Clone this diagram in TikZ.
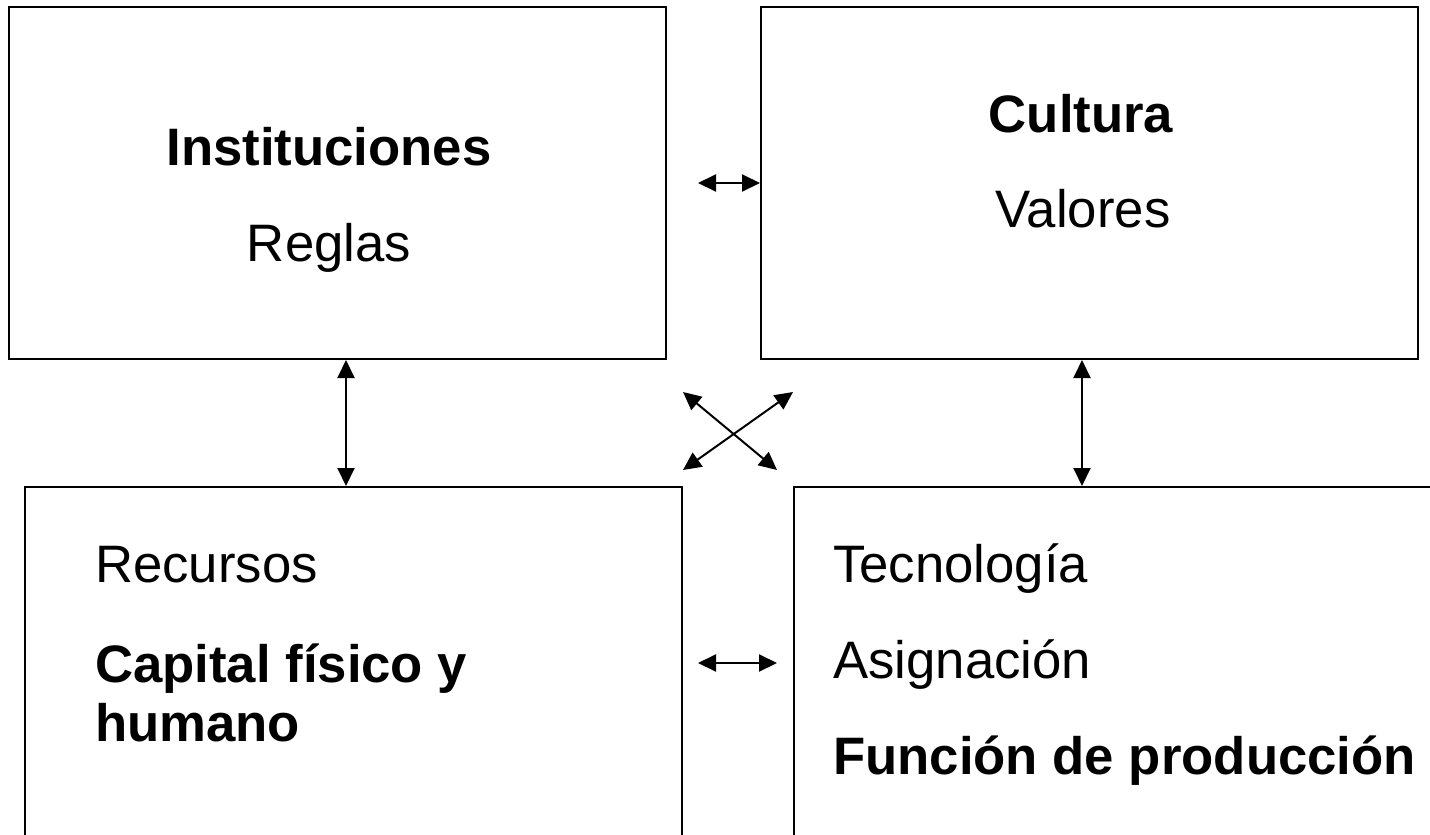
\documentclass[tikz,border=0pt]{standalone}
\usepackage{fontspec}
\setmainfont{Liberation Sans}
\usetikzlibrary{arrows.meta}
\tikzset{
  box/.style={draw=black, line width=2pt, minimum width=657pt, inner sep=0pt, fill=none},
  arr/.style={line width=2pt, {Triangle[length=18pt,width=17pt]}-{Triangle[length=18pt,width=17pt]}},
  txt/.style={inner sep=0pt, font=\fontsize{52.7}{60}\selectfont},
  btxt/.style={txt, font=\fontsize{52.7}{60}\selectfont\bfseries}
}
\begin{document}
\begin{tikzpicture}[x=1pt,y=-1pt]
\clip (0,0) rectangle (1430,835);
\fill[white] (0,0) rectangle (1430,835);
% boxes
\node[box, minimum height=352pt] (TL) at (337.5,183) {};
\node[box, minimum height=352pt] (TR) at (1089.5,183) {};
\node[box, minimum height=400pt] (BL) at (353.5,687) {};
\node[box, minimum height=400pt] (BR) at (1122.5,687) {};
% texts
\node[btxt, anchor=base] (t1) at (329,165) {Instituciones};
\node[txt, anchor=base] (t2) at (329,261) {Reglas};
\node[btxt, anchor=base] (t3) at (1081,132) {Cultura};
\node[txt, anchor=base] (t4) at (1083,227) {Valores};
\node[txt, anchor=base west] (t5) at (95,582) {Recursos};
\node[btxt, anchor=base west] (t6) at (95,682) {Capital físico y};
\node[btxt, anchor=base west] (t7) at (95,741) {humano};
\node[txt, anchor=base west] (t8) at (833,582) {Tecnología};
\node[txt, anchor=base west] (t9) at (833,678) {Asignación};
\node[btxt, anchor=base west] (t10) at (833,774) {Función de producción};
% connector ends
\coordinate (h1) at (698,183);
\coordinate (h2a) at (698,663);
\coordinate (h2b) at (777,663);
\coordinate (c1a) at (683,392);
\coordinate (c1b) at (777,470);
\coordinate (c2a) at (683,470);
\coordinate (c2b) at (793,392);
% connectors
\draw[arr] (h1) -- (h1 -| TR.west);
\draw[arr] (h2a) -- (h2b);
\draw[arr] (346,0 |- TL.south) -- (346,0 |- BL.north);
\draw[arr] (1082,0 |- TR.south) -- (1082,0 |- BR.north);
\draw[arr] (c1a) -- (c1b);
\draw[arr] (c2a) -- (c2b);
\end{tikzpicture}
\end{document}
